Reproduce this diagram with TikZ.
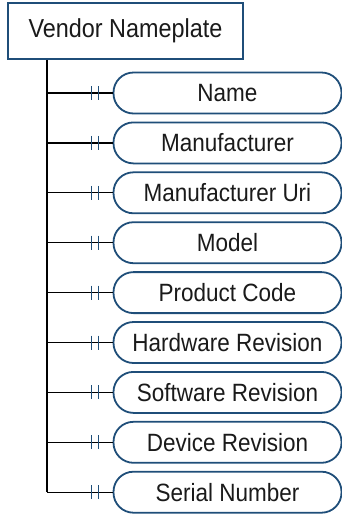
\documentclass[tikz,border=0pt]{standalone}
\usepackage{fontspec}
\setmainfont[FakeStretch=0.9]{Liberation Sans}
\usetikzlibrary{calc}
\definecolor{navy}{HTML}{1F4E79}
\definecolor{ink}{HTML}{1A1A1A}
\tikzset{
  entitybox/.style={draw=navy, line width=1.8pt, fill=white, text=ink,
    minimum width=235pt, minimum height=56pt, inner sep=0pt,
    font=\fontsize{26}{30}\selectfont},
  attrbox/.style={draw=navy, line width=1.8pt, fill=white, text=ink,
    rounded corners=20pt, minimum width=228pt, minimum height=41pt,
    inner sep=0pt, font=\fontsize{25}{30}\selectfont},
  link/.style={draw=black, line width=1.2pt},
  tick/.style={draw=navy, line width=1.2pt}
}
\begin{document}
\begin{tikzpicture}[x=1pt,y=-1pt]
\useasboundingbox (0,0) rectangle (342,515);
\node[entitybox] (vn) at (125.5,31) {Vendor Nameplate};
\foreach \i/\t in {0/Name,1/Manufacturer,2/Manufacturer Uri,3/Model,
    4/Product Code,5/Hardware Revision,6/Software Revision,
    7/Device Revision,8/Serial Number}{
  \coordinate (j\i) at (47,{93+49.9*\i});
  \node[attrbox] (a\i) at (227.5,{93+49.9*\i}) {\t};
  \draw[link] (j\i) -- (a\i.west);
  \draw[tick] ($(a\i.west)+(-21,-7)$) -- ($(a\i.west)+(-21,7)$);
  \draw[tick] ($(a\i.west)+(-14,-7)$) -- ($(a\i.west)+(-14,7)$);
}
\draw[link] (vn.south -| j8) -- (j8);
\end{tikzpicture}
\end{document}
